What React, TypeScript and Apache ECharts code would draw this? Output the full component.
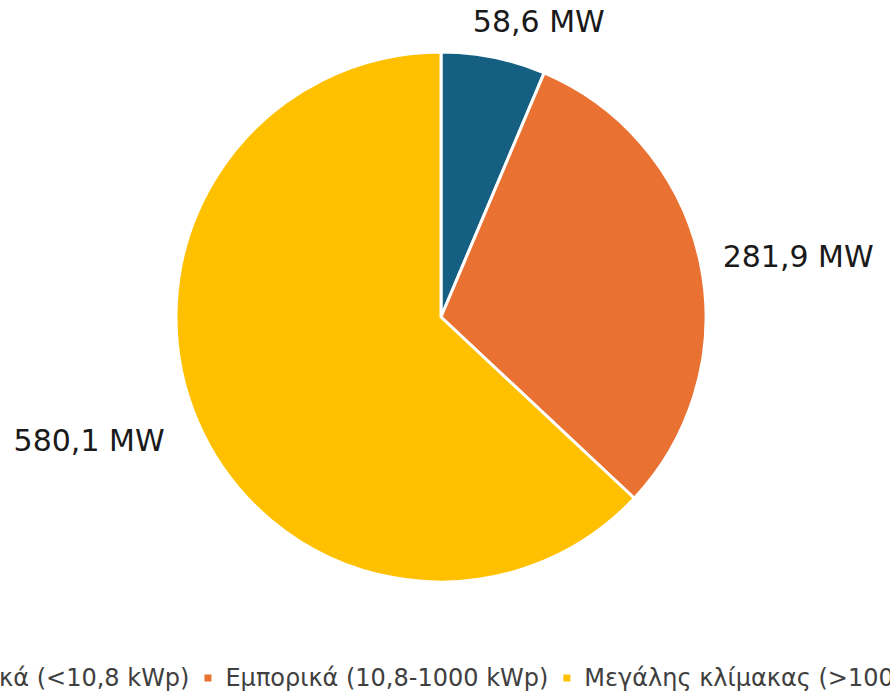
import React, { useEffect, useRef } from "react";
import * as echarts from "echarts";

const categories = [
  "Οικιακά (<10,8 kWp)",
  "Εμπορικά (10,8-1000 kWp)",
  "Μεγάλης κλίμακας (>1000 kWp)",
];
const values = [58.6, 281.9, 580.1];
const colors = ["#156082", "#E97132", "#FFC000"];
const labelLineLengths = [36, 28, 45];
const labelShift = [
  [-28, 0],
  [-5, 0],
  [8, 0],
];

export default function App() {
  const ref = useRef<HTMLDivElement>(null);
  useEffect(() => {
    document.body.style.margin = "0";
    const chart = echarts.init(ref.current!, undefined, { renderer: "svg" });
    const font = "'DejaVu Sans', sans-serif";
    chart.setOption({
      animation: false,
      backgroundColor: "#ffffff",
      legend: {
        show: true,
        left: -94,
        top: 661,
        width: 1300,
        icon: "rect",
        itemWidth: 9,
        itemHeight: 9,
        itemGap: 13,
        textStyle: {
          fontFamily: font,
          fontSize: 24,
          color: "#404040",
          padding: [0, 0, 0, 8],
        },
        data: categories,
      },
      series: [
        {
          type: "pie",
          center: [441, 317],
          radius: [0, 265],
          startAngle: 90,
          clockwise: true,
          avoidLabelOverlap: false,
          itemStyle: { borderColor: "#ffffff", borderWidth: 3 },
          label: {
            show: true,
            position: "outside",
            fontFamily: font,
            fontSize: 30,
            color: "#1a1a1a",
            formatter: (p: any) => p.value.toFixed(1).replace(".", ",") + " MW",
            distanceToLabelLine: 0,
          },
          labelLine: { show: false, length2: 0 },
          labelLayout: (p: any) => ({
            dx: labelShift[p.dataIndex][0],
            dy: labelShift[p.dataIndex][1],
          }),
          data: categories.map((c, i) => ({
            name: c,
            value: values[i],
            itemStyle: { color: colors[i] },
            labelLine: { show: false, length: labelLineLengths[i], length2: 0 },
          })),
        },
      ],
    });
    return () => chart.dispose();
  }, []);
  return (
    <div
      ref={ref}
      style={{ width: 890, height: 696, position: "absolute", left: 0, top: 0 }}
    />
  );
}
